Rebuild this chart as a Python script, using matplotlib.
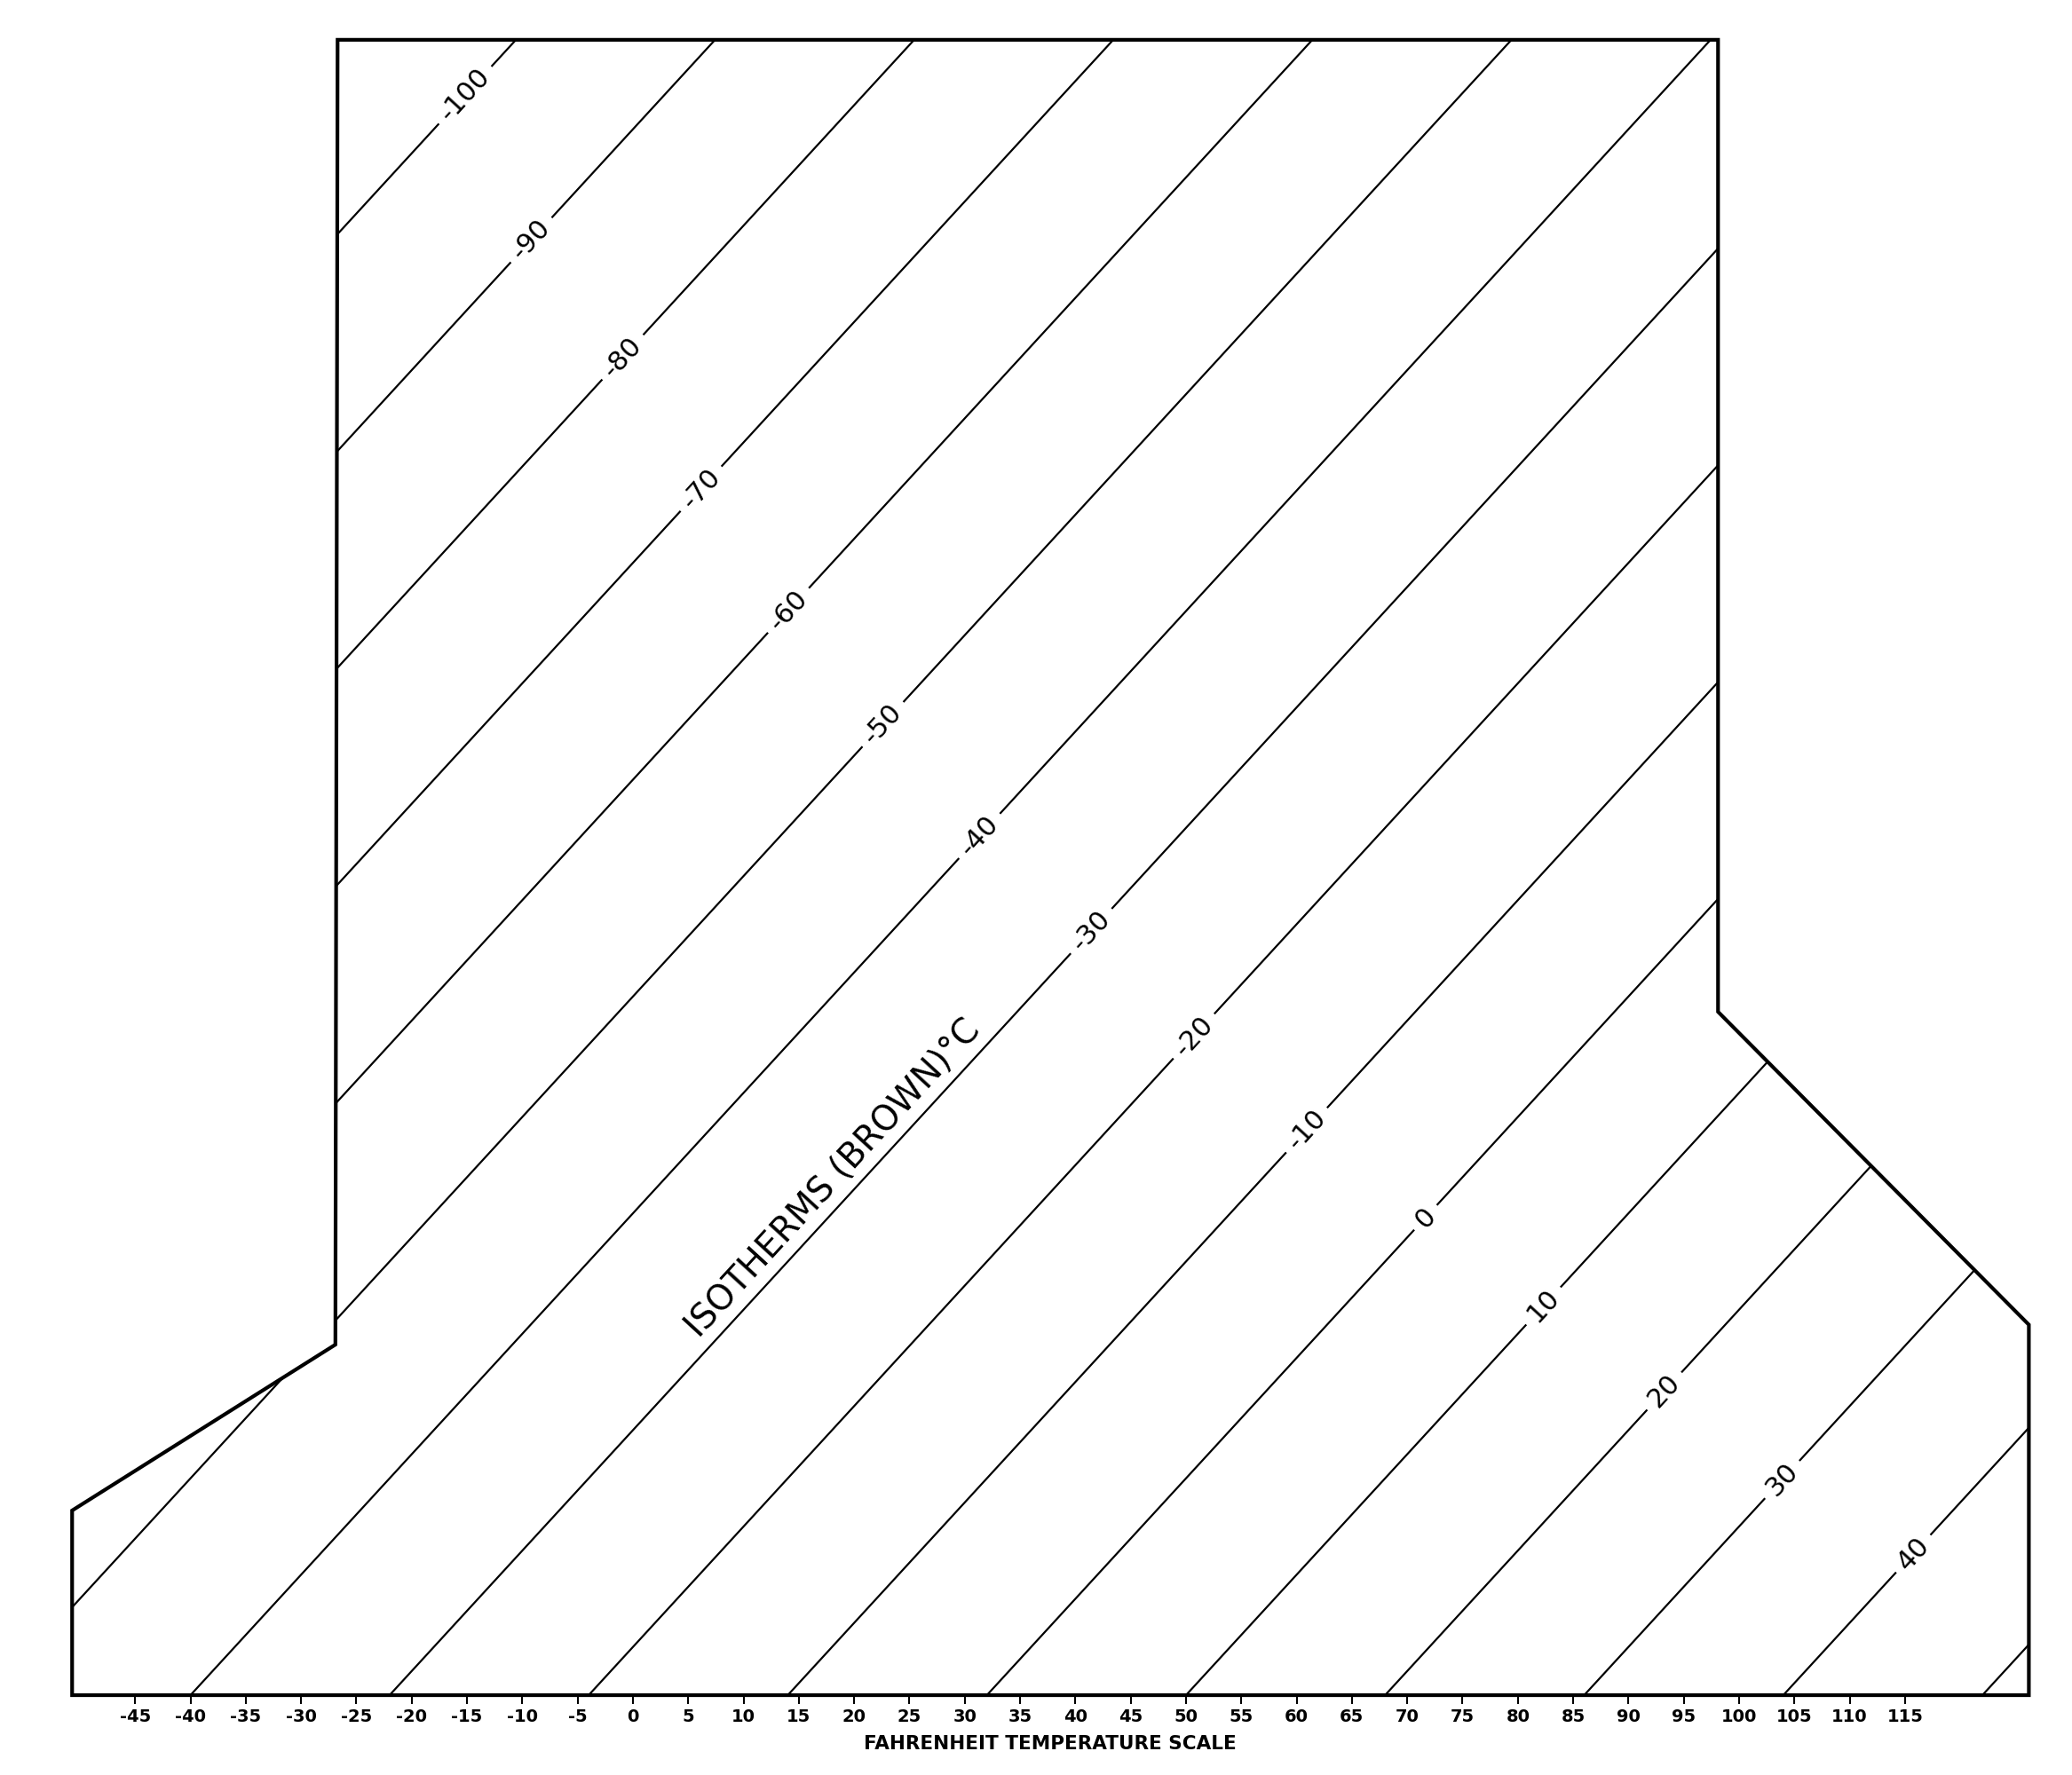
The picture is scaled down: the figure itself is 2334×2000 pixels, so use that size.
import numpy as np
import matplotlib
matplotlib.use('Agg')
import matplotlib.pyplot as plt
from matplotlib.patches import Polygon

# isotherms (deg C), one line every 10 degrees
isotherms_c = [-100, -90, -80, -70, -60, -50, -40, -30, -20, -10, 0, 10, 20, 30, 40, 50]
labelled_c = [-100, -90, -80, -70, -60, -50, -40, -30, -20, -10, 0, 10, 20, 30, 40]
# height (chart units above the base line) where each isotherm carries its label
label_height = [144.7, 131.6, 121.0, 109.1, 98.1, 87.8, 77.7, 69.1, 59.6, 51.1,
                43.2, 35.2, 27.5, 19.5, 12.8]

fahrenheit_ticks = [-45, -40, -35, -30, -25, -20, -15, -10, -5, 0, 5, 10, 15, 20, 25,
                    30, 35, 40, 45, 50, 55, 60, 65, 70, 75, 80, 85, 90, 95, 100,
                    105, 110, 115]
fahrenheit_labels = [str(t) for t in fahrenheit_ticks]

# outline of the chart, x in deg F, y in chart height units
outline_x = [-50.7, 126.2, 126.2, 98.1, 98.1, -26.7, -26.9, -50.7]
outline_y = [0.0, 0.0, 33.5, 61.8, 149.7, 149.7, 31.7, 16.7]

SKEW = 0.918  # horizontal shift of an isotherm per unit of height
ANGLE = np.degrees(np.arctan2(1.0, SKEW))


def c_to_f(c):
    return c * 9.0 / 5.0 + 32.0


def isotherm_x(c, y):
    return c_to_f(c) + SKEW * y


fig = plt.figure(figsize=(23.34, 20), dpi=100)
ax = fig.add_axes([0, 0, 1, 1])
ax.set_xlim(-57.22, 130.1)
ax.set_ylim(-7.22, 153.3)

outline = Polygon(np.column_stack([outline_x, outline_y]), closed=True, fill=False,
                  edgecolor='black', linewidth=3.0, joinstyle='miter', zorder=3)
ax.add_patch(outline)

for c in isotherms_c:
    ys = np.array([-10.0, 160.0])
    line, = ax.plot(isotherm_x(c, ys), ys, color='black', linewidth=1.6, zorder=1)
    line.set_clip_path(outline)

for c, h in zip(labelled_c, label_height):
    ax.text(isotherm_x(c, h), h, str(c), rotation=ANGLE, rotation_mode='anchor',
            ha='center', va='center', fontsize=22, color='black', zorder=2,
            bbox=dict(boxstyle='square,pad=0.3', facecolor='white', edgecolor='none'))

# chart title written along the -30 isotherm
title_h = 46.7
ax.text(isotherm_x(-30, title_h) - 2.75, title_h, 'ISOTHERMS (BROWN)\u00b0C',
        rotation=ANGLE, rotation_mode='anchor', ha='center', va='center',
        fontsize=28, color='black', zorder=2)

# Fahrenheit scale on the base line
for side in ['top', 'left', 'right']:
    ax.spines[side].set_visible(False)
ax.spines['bottom'].set_position(('data', 0))
ax.spines['bottom'].set_visible(False)
ax.set_yticks([])
ax.set_xticks(fahrenheit_ticks, labels=fahrenheit_labels,
              fontfamily=['Liberation Sans Narrow', 'DejaVu Sans'], fontweight='bold')
ax.tick_params(axis='x', direction='out', length=7, width=1.5, pad=4, labelsize=14,
               colors='black')
ax.set_xlabel('FAHRENHEIT TEMPERATURE SCALE', fontsize=15.5, fontweight='bold',
              va='center')
ax.xaxis.set_label_coords(0.507, 0.0175)

fig.savefig('out.png', dpi=100)
